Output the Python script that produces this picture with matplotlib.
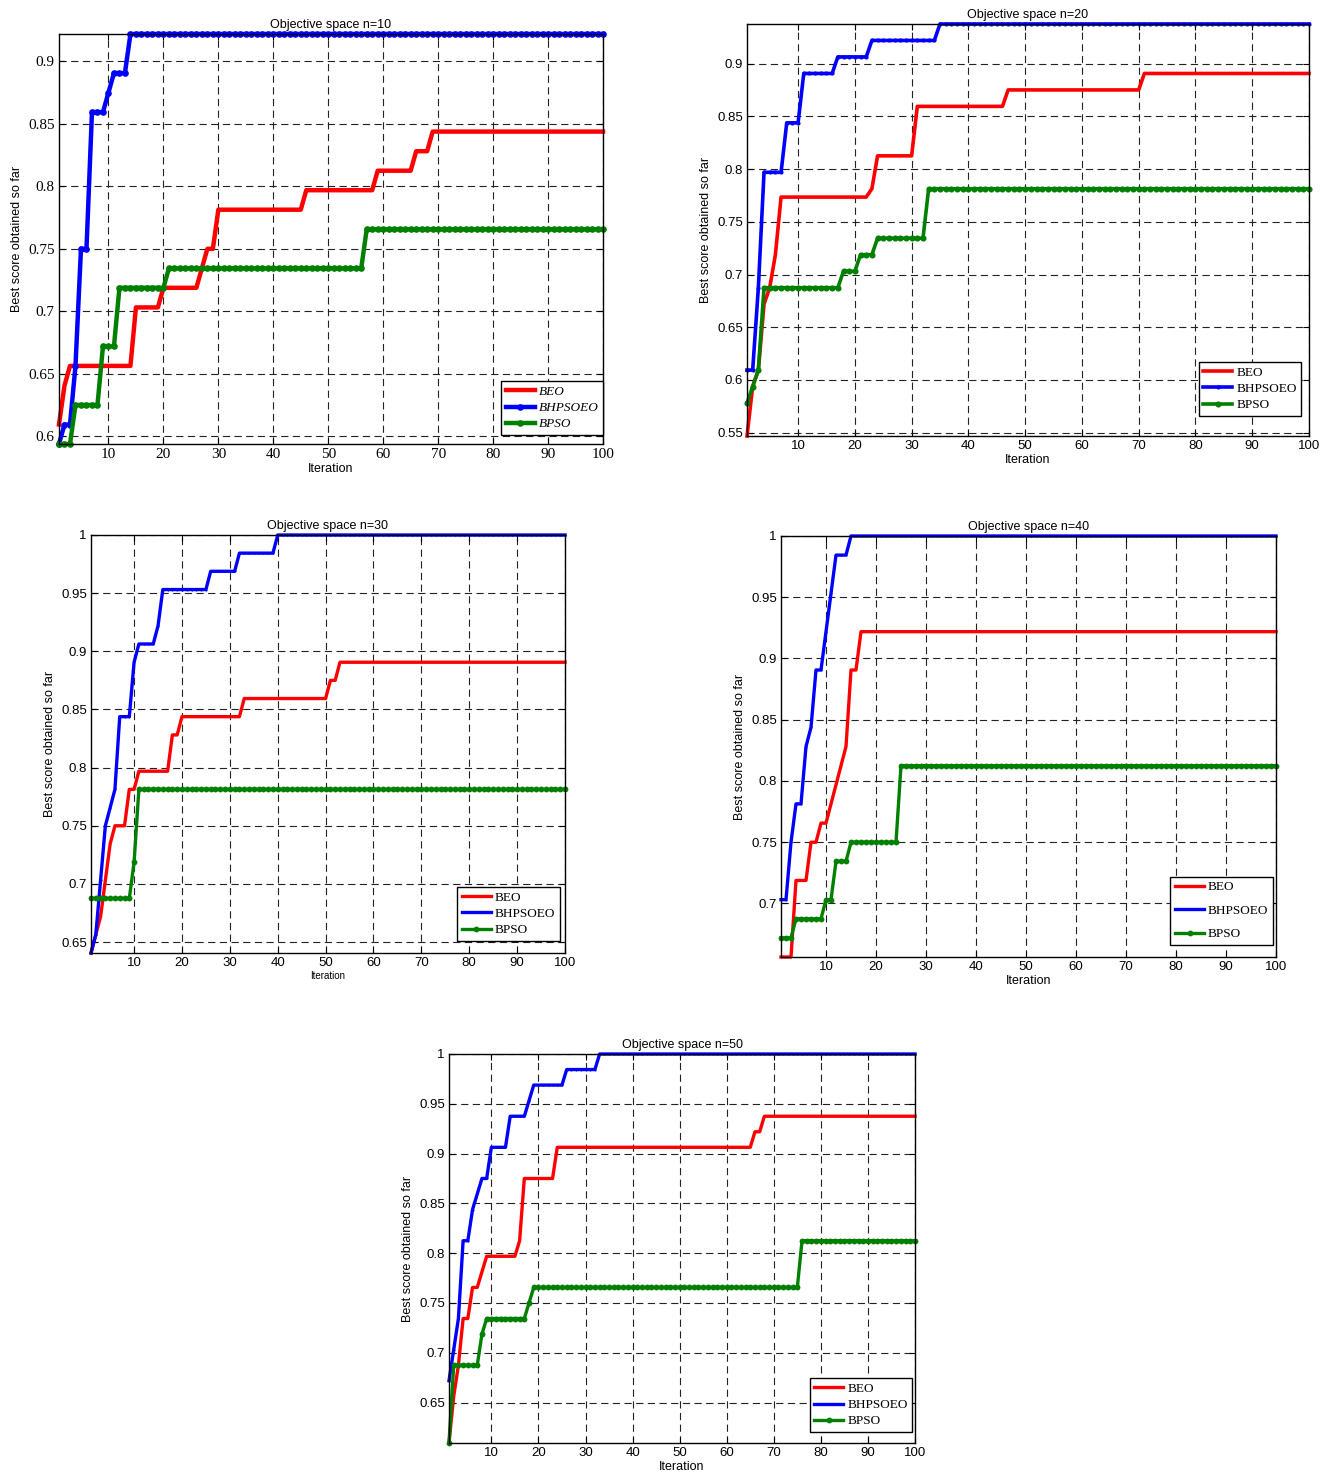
import numpy as np
import matplotlib
matplotlib.use('Agg')
import matplotlib.pyplot as plt

# best score so far, stored as (iteration where it changes, new value)
n_iter = 100

beo10_it = [1, 2, 3, 15, 20, 27, 28, 30, 46, 59, 66, 69]
beo10_val = [0.6094, 0.6406, 0.6563, 0.7031, 0.7188, 0.7344, 0.75, 0.7813, 0.7969, 0.8125, 0.8281, 0.8438]
hyb10_it = [1, 2, 4, 5, 7, 10, 11, 14]
hyb10_val = [0.5938, 0.6094, 0.6563, 0.75, 0.8594, 0.875, 0.8906, 0.9219]
pso10_it = [1, 4, 9, 12, 21, 57]
pso10_val = [0.5938, 0.625, 0.6719, 0.7188, 0.7344, 0.7656]

beo20_it = [1, 2, 3, 4, 5, 6, 7, 23, 24, 31, 47, 71]
beo20_val = [0.5469, 0.5938, 0.6094, 0.6719, 0.6875, 0.7188, 0.7734, 0.7813, 0.8125, 0.8594, 0.875, 0.8906]
hyb20_it = [1, 3, 4, 8, 11, 17, 23, 35]
hyb20_val = [0.6094, 0.6875, 0.7969, 0.8438, 0.8906, 0.9063, 0.9219, 0.9375]
pso20_it = [1, 2, 3, 4, 18, 21, 24, 33]
pso20_val = [0.5781, 0.5938, 0.6094, 0.6875, 0.7031, 0.7188, 0.7344, 0.7813]

beo30_it = [1, 2, 3, 4, 5, 6, 9, 11, 18, 20, 33, 51, 53]
beo30_val = [0.6406, 0.6563, 0.6719, 0.7031, 0.7344, 0.75, 0.7813, 0.7969, 0.8281, 0.8438, 0.8594, 0.875, 0.8906]
hyb30_it = [1, 2, 3, 4, 5, 6, 7, 10, 11, 15, 16, 26, 32, 40]
hyb30_val = [0.6406, 0.6563, 0.7031, 0.75, 0.7656, 0.7813, 0.8438, 0.8906, 0.9063, 0.9219, 0.9531, 0.9688, 0.9844, 1.0]
pso30_it = [1, 10, 11]
pso30_val = [0.6875, 0.7188, 0.7813]

beo40_it = [1, 4, 7, 9, 11, 12, 13, 14, 15, 17]
beo40_val = [0.6563, 0.7188, 0.75, 0.7656, 0.7813, 0.7969, 0.8125, 0.8281, 0.8906, 0.9219]
hyb40_it = [1, 3, 4, 6, 7, 8, 10, 11, 12, 15]
hyb40_val = [0.7031, 0.75, 0.7813, 0.8281, 0.8438, 0.8906, 0.9219, 0.9531, 0.9844, 1.0]
pso40_it = [1, 4, 10, 12, 15, 25]
pso40_val = [0.6719, 0.6875, 0.7031, 0.7344, 0.75, 0.8125]

beo50_it = [1, 2, 3, 4, 6, 8, 9, 16, 17, 24, 66, 68]
beo50_val = [0.6094, 0.6563, 0.6875, 0.7344, 0.7656, 0.7813, 0.7969, 0.8125, 0.875, 0.9063, 0.9219, 0.9375]
hyb50_it = [1, 2, 3, 4, 6, 7, 8, 10, 14, 18, 19, 26, 33]
hyb50_val = [0.6719, 0.7031, 0.7344, 0.8125, 0.8438, 0.8594, 0.875, 0.9063, 0.9375, 0.9531, 0.9688, 0.9844, 1.0]
pso50_it = [1, 2, 8, 9, 18, 19, 76]
pso50_val = [0.6094, 0.6875, 0.7188, 0.7344, 0.75, 0.7656, 0.8125]

labels = ['BEO', 'BHPSOEO', 'BPSO']


def curve(it, val):
    # hold each value until the next change
    x = np.arange(1, n_iter + 1)
    idx = np.searchsorted(it, x, side='right') - 1
    return x, np.asarray(val)[idx]


W, H = 1331, 1477
fig = plt.figure(figsize=(W / 100, H / 100), dpi=100)


def add_panel(box, n, series, yticks, tick_font, tick_size, leg_italic,
              leg_anchor, lw, green_ms, blue_ms, lab_size, leg_space=0.3):
    l, t, r, b = box
    ax = fig.add_axes([l / W, 1 - b / H, (r - l) / W, (b - t) / H])
    colors = ['#ff0000', '#0000ff', '#008000']
    marks = [None, 'o', 'o']
    sizes = [0, blue_ms, green_ms]
    ymin, ymax = 1.0, 0.0
    for (it, val), c, m, s, lab in zip(series, colors, marks, sizes, labels):
        x, y = curve(it, val)
        ax.plot(x, y, color=c, lw=lw, marker=m, markersize=s, markeredgewidth=0,
                label=lab, clip_on=False, zorder=3)
        ymin, ymax = min(ymin, y.min()), max(ymax, y.max())
    ax.set_xlim(1, 100)
    ax.set_ylim(ymin, ymax)
    ax.set_xticks(range(10, 101, 10))
    ax.set_yticks(yticks)
    ax.set_yticklabels([('%g' % v) for v in yticks])
    ax.grid(True, color='#222222', lw=0.8, linestyle=(0, (6.5, 4)))
    ax.tick_params(direction='in', top=True, right=True, length=4, width=0.8,
                   labelsize=tick_size, pad=3)
    for lbl in ax.get_xticklabels() + ax.get_yticklabels():
        lbl.set_family(tick_font)
    for sp in ax.spines.values():
        sp.set_linewidth(1.0)
        sp.set_zorder(4)
    ax.set_title('Objective space n=%d' % n, fontsize=9, family='Liberation Sans', pad=4)
    ax.set_xlabel('Iteration', fontsize=lab_size, family='Liberation Sans', labelpad=1)
    ax.set_ylabel('Best score obtained so far', fontsize=9, family='Liberation Sans', labelpad=4)
    leg = ax.legend(loc='lower right', bbox_to_anchor=leg_anchor, fancybox=False,
                    framealpha=1, edgecolor='black', borderpad=0.35, labelspacing=leg_space,
                    handlelength=2.2, handletextpad=0.3, borderaxespad=0,
                    prop={'family': 'Liberation Serif', 'size': 9.5,
                          'style': 'italic' if leg_italic else 'normal'})
    leg.get_frame().set_linewidth(1.0)
    leg.set_zorder(5)
    return ax


add_panel((59, 34, 603, 444), 10,
          [(beo10_it, beo10_val), (hyb10_it, hyb10_val), (pso10_it, pso10_val)],
          [0.6, 0.65, 0.7, 0.75, 0.8, 0.85, 0.9], 'Liberation Serif', 11,
          True, (1.0, 0.022), 3.2, 4.8, 4.8, 9)
add_panel((747, 24, 1309, 436), 20,
          [(beo20_it, beo20_val), (hyb20_it, hyb20_val), (pso20_it, pso20_val)],
          [0.55, 0.6, 0.65, 0.7, 0.75, 0.8, 0.85, 0.9], 'Liberation Sans', 9.5,
          False, (0.986, 0.049), 2.6, 4.4, 3.0, 9)
add_panel((91, 535, 565, 953), 30,
          [(beo30_it, beo30_val), (hyb30_it, hyb30_val), (pso30_it, pso30_val)],
          [0.65, 0.7, 0.75, 0.8, 0.85, 0.9, 0.95, 1.0], 'Liberation Sans', 9.5,
          False, (0.989, 0.029), 2.4, 4.2, 1.5, 7)
add_panel((781, 536, 1276, 957), 40,
          [(beo40_it, beo40_val), (hyb40_it, hyb40_val), (pso40_it, pso40_val)],
          [0.7, 0.75, 0.8, 0.85, 0.9, 0.95, 1.0], 'Liberation Sans', 9.5,
          False, (0.994, 0.0285), 2.4, 4.2, 1.5, 9, leg_space=0.85)
add_panel((449, 1054, 915, 1443), 50,
          [(beo50_it, beo50_val), (hyb50_it, hyb50_val), (pso50_it, pso50_val)],
          [0.65, 0.7, 0.75, 0.8, 0.85, 0.9, 0.95, 1.0], 'Liberation Sans', 9.5,
          False, (0.994, 0.028), 2.4, 4.2, 1.5, 9)

fig.savefig('out.png', dpi=100)
